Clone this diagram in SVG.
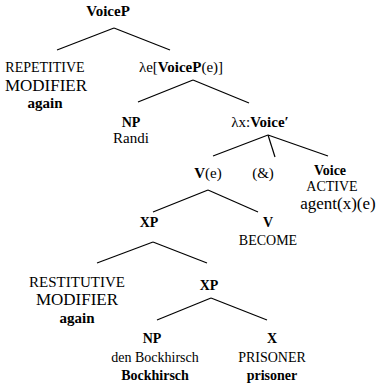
<svg xmlns="http://www.w3.org/2000/svg" width="376" height="385" viewBox="0 0 376 385">
<style>
text{font-family:'Times New Roman','Liberation Serif',Tinos,'DejaVu Serif',serif;font-size:14px;fill:#000;text-anchor:middle}
.b{font-weight:bold}
.big{font-size:17px}
.mid{font-size:15px}
line{stroke:#000;stroke-width:1.2}
</style>
<rect width="376" height="385" fill="#fff"/>
<g id="connectors">
<line x1="114" y1="28" x2="57" y2="50"/>
<line x1="114" y1="28" x2="170" y2="50"/>
<line x1="193" y1="80" x2="138" y2="102"/>
<line x1="193" y1="80" x2="249" y2="103"/>
<line x1="268" y1="135" x2="213" y2="156"/>
<line x1="268" y1="135" x2="275" y2="157"/>
<line x1="268" y1="135" x2="328" y2="156"/>
<line x1="208" y1="190" x2="153" y2="212"/>
<line x1="208" y1="190" x2="258" y2="212"/>
<line x1="153" y1="242" x2="97" y2="263"/>
<line x1="153" y1="242" x2="207" y2="263"/>
<line x1="211" y1="298" x2="157" y2="320"/>
<line x1="211" y1="298" x2="267" y2="320"/>
</g>
<g id="voiceP"><text class="b mid" x="108" y="16">VoiceP</text></g>
<g id="repetitive">
<text x="45" y="72">REPETITIVE</text>
<text class="big" x="46" y="91">MODIFIER</text>
<text class="b mid" x="45" y="108">again</text>
</g>
<g id="lambdaE"><text class="mid" x="181" y="72">λe[<tspan class="b">VoiceP</tspan>(e)]</text></g>
<g id="np1">
<text class="b" x="131" y="127">NP</text>
<text class="mid" x="131" y="143">Randi</text>
</g>
<g id="lambdaX"><text class="mid" x="260" y="127">λx:<tspan class="b">Voice′</tspan></text></g>
<g id="ve"><text class="mid" x="208" y="178"><tspan class="b">V</tspan>(e)</text></g>
<g id="amp"><text class="mid" x="263" y="178">(&amp;)</text></g>
<g id="voice">
<text class="b" x="330" y="175">Voice</text>
<text x="332" y="191">ACTIVE</text>
<text class="big" x="338" y="209">agent(x)(e)</text>
</g>
<g id="xp1"><text class="b" x="149" y="227">XP</text></g>
<g id="v">
<text class="b" x="268" y="227">V</text>
<text x="268" y="245">BECOME</text>
</g>
<g id="restitutive">
<text class="mid" x="77" y="287">RESTITUTIVE</text>
<text class="big" x="77" y="305">MODIFIER</text>
<text class="b mid" x="77" y="323">again</text>
</g>
<g id="xp2"><text class="b" x="209" y="290">XP</text></g>
<g id="np2">
<text class="b" x="152" y="343">NP</text>
<text x="155" y="362">den Bockhirsch</text>
<text class="b" x="155" y="380">Bockhirsch</text>
</g>
<g id="x">
<text class="b" x="272" y="343">X</text>
<text x="272" y="362">PRISONER</text>
<text class="b" x="272" y="380">prisoner</text>
</g>
</svg>
